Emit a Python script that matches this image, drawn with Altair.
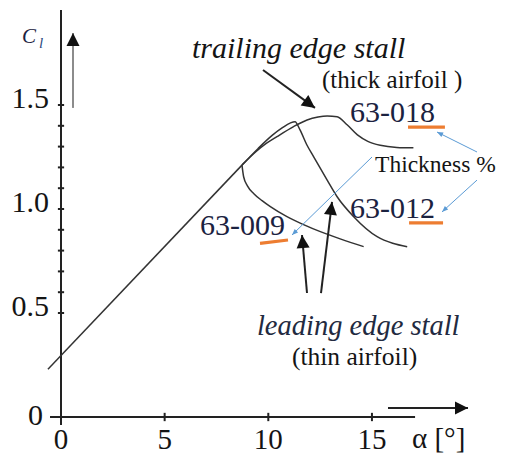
import math
import altair as alt
import pandas as pd

# ---------------- data ----------------
alpha_linear = [-0.63, 8.73]
cl_linear = [0.23, 1.211]

alpha_009 = [8.73, 8.81, 9.0, 9.29, 9.7, 10.1, 10.9, 11.7, 12.51, 13.5, 14.6]
cl_009 = [1.211, 1.155, 1.11, 1.075, 1.04, 1.011, 0.963, 0.925, 0.891, 0.855, 0.819]

alpha_012 = [8.73, 9.5, 10.2, 10.7, 11.05, 11.29, 11.53, 11.85, 12.19, 12.84, 13.32, 14.12, 15.25, 16.0, 16.7]
cl_012 = [1.211, 1.29, 1.355, 1.392, 1.413, 1.42, 1.38, 1.31, 1.251, 1.139, 1.059, 0.963, 0.867, 0.835, 0.819]

alpha_018 = [8.73, 9.4, 9.9, 10.42, 11.22, 11.87, 12.4, 12.84, 13.32, 13.8, 14.3, 14.8, 15.4, 16.2, 17.0]
cl_018 = [1.211, 1.275, 1.315, 1.348, 1.396, 1.428, 1.442, 1.447, 1.444, 1.405, 1.356, 1.325, 1.306, 1.296, 1.294]

x_tick_values = [0, 5, 10, 15]
x_tick_labels = ["0", "5", "10", "15"]
y_tick_values = [0.5, 1.0, 1.5]
y_tick_labels = ["0.5", "1.0", "1.5"]
y_minor_ticks = [0.5, 0.6, 0.7, 0.8, 0.9, 1.0, 1.1, 1.2, 1.3, 1.4, 1.5]
x_major_ticks = [5, 10, 15]

# ---------------- layout ----------------
W, H = 490, 446
PX_X = 20.73   # pixels per degree
PX_Y = 208.0   # pixels per unit Cl
X_DOM = [-53 / PX_X, (W - 53) / PX_X]
Y_DOM = [(409 - H) / PX_Y, 409 / PX_Y]
xs = alt.Scale(domain=X_DOM, nice=False, zero=False)
ys = alt.Scale(domain=Y_DOM, nice=False, zero=False)

SERIF = "Liberation Serif, Times New Roman, Times, DejaVu Serif, serif"
INK = "#141414"
NAVY = "#1b2240"
ORANGE = "#ED7D31"
BLUE = "#5B9BD5"


def X(f="x"):
    return alt.X(f"{f}:Q", scale=xs, axis=None)


def Y(f="y"):
    return alt.Y(f"{f}:Q", scale=ys, axis=None)


# ---------------- curves ----------------
rows = []
for name, a, c in [("linear", alpha_linear, cl_linear), ("63-009", alpha_009, cl_009),
                   ("63-012", alpha_012, cl_012), ("63-018", alpha_018, cl_018)]:
    for i, (aa, cc) in enumerate(zip(a, c)):
        rows.append({"x": aa, "y": cc, "series": name, "order": i})
curves_df = pd.DataFrame(rows)
curves = alt.Chart(curves_df).mark_line(
    color="#333333", strokeWidth=1.5, interpolate="monotone"
).encode(x=X(), y=Y(), detail="series:N", order="order:Q")

# ---------------- axes ----------------
axis_lines = pd.DataFrame({
    "x": [0.0, -0.53], "x2": [0.0, 17.08],
    "y": [-0.0385, 0.0], "y2": [1.957, 0.0],
})
axes = alt.Chart(axis_lines).mark_rule(color="#222222", strokeWidth=2).encode(
    x=X(), x2="x2:Q", y=Y(), y2="y2:Q")

yminor = alt.Chart(pd.DataFrame({"y": y_minor_ticks})).mark_rule(
    color="#222222", strokeWidth=2).encode(
    x=alt.X(datum=-0.15, scale=xs, axis=None), x2=alt.X2(datum=0.15), y=Y())
xmajor = alt.Chart(pd.DataFrame({"x": x_major_ticks})).mark_rule(
    color="#222222", strokeWidth=2).encode(
    x=X(), y=alt.Y(datum=-0.02, scale=ys, axis=None), y2=alt.Y2(datum=0.02))

xlab = alt.Chart(pd.DataFrame({"x": x_tick_values, "t": x_tick_labels})).mark_text(
    font=SERIF, fontSize=29, color=INK, align="center", baseline="alphabetic", dy=32
).encode(x=X(), y=alt.Y(datum=0, scale=ys, axis=None), text="t:N")

ylab = alt.Chart(pd.DataFrame({"y": y_tick_values, "t": y_tick_labels})).mark_text(
    font=SERIF, fontSize=30, color=INK, align="right", baseline="alphabetic", dy=3
).encode(x=alt.X(datum=-0.58, scale=xs, axis=None), y=Y(), text="t:N")
ylab0 = alt.Chart(pd.DataFrame({"y": [0.0], "t": ["0"]})).mark_text(
    font=SERIF, fontSize=30, color=INK, align="right", baseline="alphabetic", dy=8
).encode(x=alt.X(datum=-0.87, scale=xs, axis=None), y=Y(), text="t:N")


# ---------------- text annotations ----------------
def label(x, y, text, size, style="normal", color=INK, align="left"):
    return alt.Chart(pd.DataFrame({"x": [x], "y": [y], "t": [text]})).mark_text(
        font=SERIF, fontSize=size, fontStyle=style, color=color, align=align,
        baseline="alphabetic").encode(x=X(), y=Y(), text="t:N")


texts = [
    label(6.32, 1.726, "trailing edge stall", 30, "italic"),
    label(12.59, 1.582, "(thick airfoil )", 25),
    label(13.94, 1.418, "63-018", 30, color=NAVY),
    label(15.15, 1.178, "Thickness %", 23.5),
    label(13.94, 0.957, "63-012", 30, color=NAVY),
    label(6.70, 0.875, "63-009", 30, color=NAVY),
    label(9.45, 0.394, "leading edge stall", 28.5, "italic", color="#222a40"),
    label(11.14, 0.25, "(thin airfoil)", 25.5),
    label(16.93, -0.15, "α [°]", 29),
    label(-1.88, 1.798, "C", 21, "italic", color=NAVY),
    label(-1.06, 1.774, "l", 15, "italic", color="#2c4a80"),
]

# ---------------- underlines ----------------
underline_df = pd.DataFrame({
    "x": [16.74, 16.79, 9.60], "x2": [18.52, 18.43, 10.95],
    "y": [1.394, 0.933, 0.835], "y2": [1.394, 0.933, 0.851],
})
underlines = alt.Chart(underline_df).mark_rule(color=ORANGE, strokeWidth=3.2).encode(
    x=X(), x2="x2:Q", y=Y(), y2="y2:Q")


# ---------------- arrows ----------------
def arrow_df(arrs):
    out = []
    for (x0, y0, x1, y1) in arrs:
        dx = (x1 - x0) * PX_X
        dy = -(y1 - y0) * PX_Y
        ang = math.degrees(math.atan2(dx, -dy)) % 360
        out.append({"x": x0, "y": y0, "x2": x1, "y2": y1, "angle": ang})
    return pd.DataFrame(out)


HEAD = "M0,0 L0.5,1 L-0.5,1 Z"
HEAD_THIN = "M0,0 L0.4,1 L-0.4,1 Z"

black_arrows = arrow_df([
    (9.744, 1.668, 12.253, 1.486),   # trailing edge stall
    (11.867, 0.596, 11.626, 0.875),  # leading edge 1
    (12.542, 0.596, 13.073, 1.034),  # leading edge 2
    (15.774, 0.0433, 19.634, 0.0433),  # alpha axis arrow
])
black_lines = alt.Chart(black_arrows).mark_rule(color="#222222", strokeWidth=2).encode(
    x=X(), x2="x2:Q", y=Y(), y2="y2:Q")
black_heads = alt.Chart(black_arrows).mark_point(
    shape=HEAD, filled=True, size=676, color="#111111", opacity=1, strokeWidth=0
).encode(x=X("x2"), y=Y("y2"), angle=alt.Angle("angle:Q", scale=None))

cl_arrow = arrow_df([(0.579, 1.486, 0.579, 1.846)])
cl_line = alt.Chart(cl_arrow).mark_rule(color="#8c8c8c", strokeWidth=2).encode(
    x=X(), x2="x2:Q", y=Y(), y2="y2:Q")
cl_head = alt.Chart(cl_arrow).mark_point(
    shape=HEAD, filled=True, size=676, color="#111111", opacity=1, strokeWidth=0
).encode(x=X("x2"), y=Y("y2"), angle=alt.Angle("angle:Q", scale=None))

blue_arrows = arrow_df([
    (20.068, 1.274, 18.138, 1.370),
    (20.068, 1.139, 18.379, 0.986),
    (15.003, 1.250, 11.143, 0.875),
])
blue_lines = alt.Chart(blue_arrows).mark_rule(color=BLUE, strokeWidth=1).encode(
    x=X(), x2="x2:Q", y=Y(), y2="y2:Q")
blue_heads = alt.Chart(blue_arrows).mark_point(
    shape=HEAD_THIN, filled=True, size=150, color=BLUE, opacity=1, strokeWidth=0
).encode(x=X("x2"), y=Y("y2"), angle=alt.Angle("angle:Q", scale=None))

chart = alt.layer(
    axes, yminor, xmajor, curves, cl_line, cl_head,
    black_lines, black_heads, blue_lines, blue_heads, underlines,
    xlab, ylab, ylab0, *texts
).properties(
    width=W, height=H, padding=0,
    autosize=alt.AutoSizeParams(type="none"),
    background="white",
).configure_view(stroke=None)

chart.save("out.html", embed_options={"renderer": "svg", "actions": False})
